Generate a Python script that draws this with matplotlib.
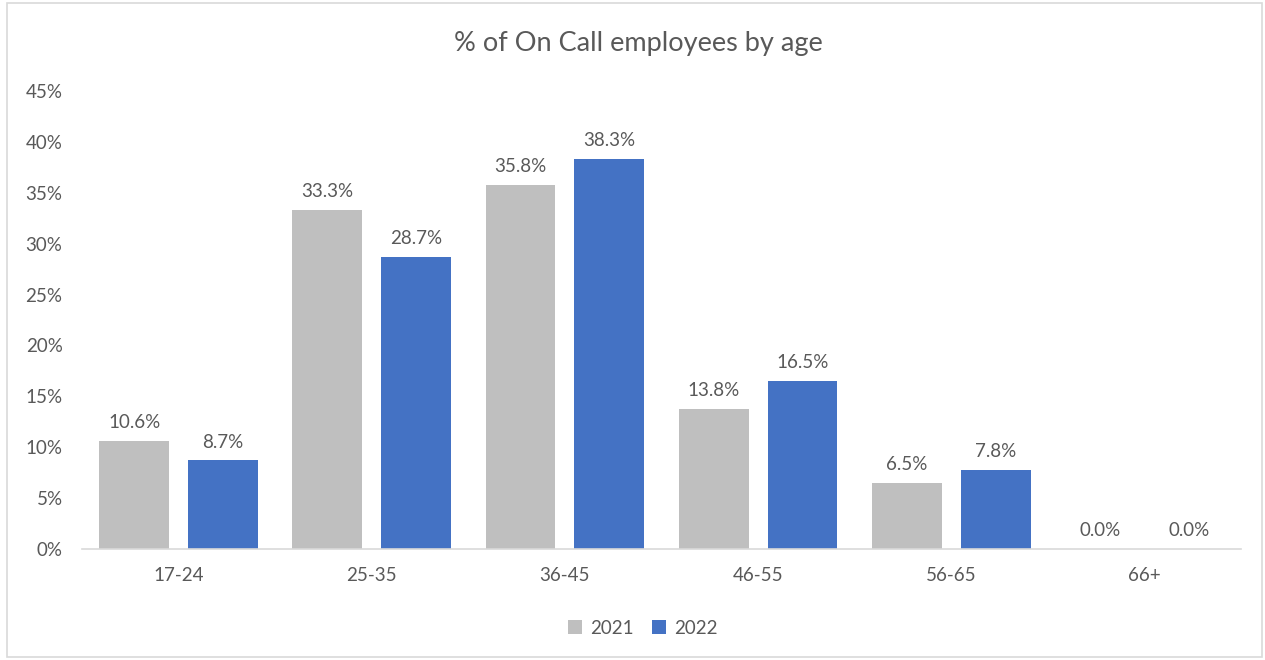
import numpy as np
import matplotlib
matplotlib.use("Agg")
import matplotlib.pyplot as plt
from matplotlib.patches import Rectangle

# age bands and share of on-call employees (%)
ages = ['17-24', '25-35', '36-45', '46-55', '56-65', '66+']
pct_2021 = [10.6, 33.3, 35.8, 13.8, 6.5, 0.0]
pct_2022 = [8.7, 28.7, 38.3, 16.5, 7.8, 0.0]
yticks = [0, 5, 10, 15, 20, 25, 30, 35, 40, 45]

txt = '#595959'
fs = 13.5
plt.rcParams['font.family'] = ['Lato', 'DejaVu Sans']

fig = plt.figure(figsize=(12.65, 6.6), dpi=100)
ax = fig.add_axes([82 / 1265, 1 - 549 / 660, (1241 - 82) / 1265, (549 - 91) / 660])

x = np.arange(len(ages))
w = 0.362
off = 0.23
b1 = ax.bar(x - off, pct_2021, w, color='#BFBFBF', label='2021')
b2 = ax.bar(x + off, pct_2022, w, color='#4472C4', label='2022')

for bars, vals in ((b1, pct_2021), (b2, pct_2022)):
    for r, v in zip(bars, vals):
        ax.annotate(f'{v:.1f}%', (r.get_x() + r.get_width() / 2, v),
                    xytext=(0, 7), textcoords='offset points',
                    ha='center', va='bottom', fontsize=fs, color=txt)

ax.set_xlim(-0.5, len(ages) - 0.5)
ax.set_ylim(0, 45)
ax.set_yticks(yticks)
ax.set_yticklabels([f'{t}%' for t in yticks], fontsize=fs, color=txt)
ax.set_xticks(x)
ax.set_xticklabels(ages, fontsize=fs, color=txt)
ax.tick_params(length=0)
ax.tick_params(axis='y', pad=14)
ax.tick_params(axis='x', pad=13)
for s in ('top', 'right', 'left'):
    ax.spines[s].set_visible(False)
ax.spines['bottom'].set_color('#D9D9D9')
ax.spines['bottom'].set_linewidth(1.2)

fig.text(0.505, 1 - 43 / 660, '% of On Call employees by age', ha='center', va='center',
         fontsize=19.5, color=txt)

fig.legend(handles=[b1, b2], loc='center', bbox_to_anchor=(0.508, 1 - 628 / 660), ncol=2,
           frameon=False, fontsize=fs, labelcolor=txt, handlelength=0.75, handleheight=0.75,
           handletextpad=0.4, columnspacing=1.0)

# chart border
fig.patches.append(Rectangle((7 / 1265, 3 / 660), 1 - 10 / 1265, 1 - 6 / 660,
                             transform=fig.transFigure, fill=False,
                             edgecolor='#D9D9D9', linewidth=1.2))

fig.savefig('out.png', dpi=100)
